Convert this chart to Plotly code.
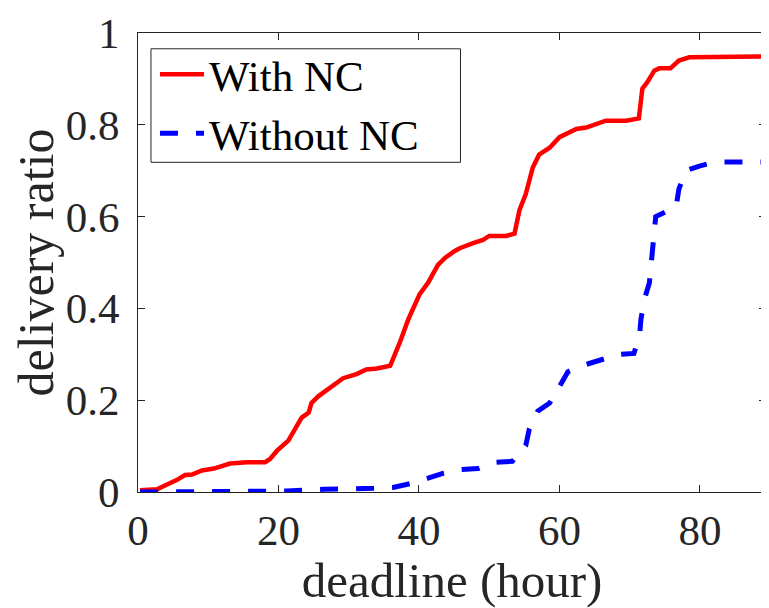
import plotly.graph_objects as go

# With NC (red, solid)
x_nc = [0.3, 2.7, 5.5, 6.7, 7.7, 9.1, 10.8, 13.1, 15.5, 18.1, 18.8, 19.8, 21.4, 22.4, 23.3, 24.3,
        24.7, 25.7, 27.3, 29.2, 31.1, 32.5, 34.0, 35.9, 37.3, 38.5, 40.1, 41.3, 42.7, 43.7, 45.1,
        45.8, 47.7, 49.1, 50.0, 52.4, 53.6, 54.3, 55.2, 56.2, 57.1, 58.6, 60.0, 62.4, 63.8, 66.6,
        69.5, 71.3, 71.8, 72.5, 73.5, 74.2, 75.8, 77.0, 78.5, 82.2, 88.9]
y_nc = [0.004, 0.006, 0.026, 0.037, 0.038, 0.047, 0.051, 0.062, 0.065, 0.065, 0.072, 0.09, 0.112,
        0.14, 0.162, 0.173, 0.194, 0.209, 0.226, 0.248, 0.257, 0.267, 0.269, 0.275, 0.327, 0.377,
        0.431, 0.456, 0.495, 0.51, 0.525, 0.531, 0.542, 0.549, 0.558, 0.558, 0.563, 0.614, 0.649,
        0.707, 0.735, 0.75, 0.773, 0.791, 0.794, 0.809, 0.809, 0.814, 0.879, 0.893, 0.918, 0.923,
        0.923, 0.94, 0.947, 0.948, 0.949]

# Without NC (blue, dashed)
x_wo = [0.3, 10.0, 21.2, 26.4, 28.3, 31.1, 33.5, 36.3, 38.7, 41.3, 43.5, 46.0, 48.4, 51.0, 53.3,
        55.2, 55.7, 56.9, 58.6, 60.0, 61.2, 63.8, 65.9, 68.5, 70.6, 71.4, 71.6, 72.1, 72.8, 73.0,
        73.7, 76.6, 77.0, 78.0, 79.9, 82.2, 88.9]
y_wo = [0.0, 0.0, 0.002, 0.006, 0.006, 0.008, 0.008, 0.01, 0.018, 0.03, 0.041, 0.049, 0.051,
        0.065, 0.067, 0.101, 0.137, 0.176, 0.194, 0.23, 0.262, 0.278, 0.289, 0.3, 0.302, 0.341,
        0.377, 0.42, 0.456, 0.492, 0.6, 0.621, 0.66, 0.7, 0.71, 0.719, 0.719]

x_ticks = [0, 20, 40, 60, 80]
y_ticks = [0, 0.2, 0.4, 0.6, 0.8, 1]
y_tick_text = ["0", "0.2", "0.4", "0.6", "0.8", "1"]

FONT = "Liberation Serif"
AX = "#262626"

# page is offset by the 8px body margin; figure sized to fit the 769x608 window
W, H = 761, 600
L, R, T, B = 130, 2, 19, 116
PW, PH = W - L - R, H - T - B

fig = go.Figure()
fig.add_trace(go.Scatter(x=x_nc, y=y_nc, mode="lines", name="With NC",
                         line=dict(color="#ff0000", width=4.5)))
fig.add_trace(go.Scatter(x=x_wo, y=y_wo, mode="lines", name="Without NC",
                         line=dict(color="#0000ff", width=5, dash="18px,18px")))

axis_common = dict(showline=True, linecolor=AX, linewidth=1, mirror="ticks",
                   ticks="inside", ticklen=7, tickcolor=AX, showgrid=False, zeroline=False,
                   ticklabeloverflow="allow",
                   tickfont=dict(family=FONT, size=43, color=AX))

# legend box (pixel positions inside the figure converted to paper coords)
bx0, bx1, by0, by1 = 143, 453, 35, 150
def px(x):
    return (x - L) / PW
def py(y):
    return 1 - (y - T) / PH

fig.add_shape(type="rect", xref="paper", yref="paper",
              x0=px(bx0), x1=px(bx1), y0=py(by1), y1=py(by0),
              line=dict(color=AX, width=1), fillcolor="white", layer="below")

fig.update_layout(
    width=W, height=H,
    margin=dict(l=L, r=R, t=T, b=B),
    plot_bgcolor="white", paper_bgcolor="white",
    xaxis=dict(range=[0, 89.4], tickvals=x_ticks, ticklabelstandoff=0,
               title=dict(text="deadline (hour)", font=dict(family=FONT, size=49, color=AX), standoff=12),
               **axis_common),
    yaxis=dict(range=[0, 1], tickvals=y_ticks, ticktext=y_tick_text, ticklabelstandoff=9,
               title=dict(text="delivery ratio", font=dict(family=FONT, size=50, color=AX), standoff=1),
               **axis_common),
    legend=dict(x=px(147), y=py(26), xanchor="left", yanchor="top",
                bgcolor="rgba(0,0,0,0)", borderwidth=0,
                font=dict(family=FONT, size=43, color="black"),
                tracegroupgap=0, itemwidth=44),
    showlegend=True,
)

fig.write_html("out.html")
